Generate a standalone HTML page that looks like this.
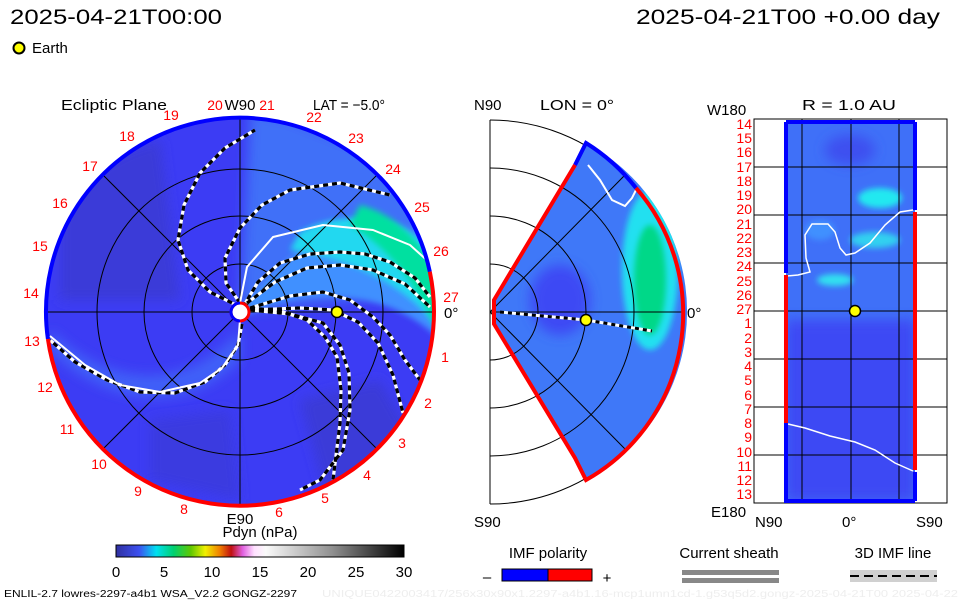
<!DOCTYPE html>
<html><head><meta charset="utf-8"><style>
html,body{margin:0;padding:0;background:#fff}
svg{display:block}
text{font-family:"Liberation Sans",sans-serif}
</style></head><body>
<svg width="960" height="600" viewBox="0 0 960 600" xmlns="http://www.w3.org/2000/svg">
<defs>
<clipPath id="cl"><circle cx="240" cy="312" r="194"/></clipPath>
<clipPath id="cm"><path d="M494,300 L575,165 L586,143 A191,191 0 0 1 586,480 L575,458 L494,324 Z"/></clipPath>
<clipPath id="cr"><rect x="786" y="122" width="129" height="379"/></clipPath>
<filter id="b6" x="-50%" y="-50%" width="200%" height="200%"><feGaussianBlur stdDeviation="6"/></filter>
<filter id="b3" x="-50%" y="-50%" width="200%" height="200%"><feGaussianBlur stdDeviation="3"/></filter>
</defs>
<rect width="960" height="600" fill="#fff"/>

<text x="10" y="24" font-size="21" textLength="212" lengthAdjust="spacingAndGlyphs">2025-04-21T00:00</text>
<text x="636" y="24" font-size="21" textLength="304" lengthAdjust="spacingAndGlyphs">2025-04-21T00 +0.00 day</text>
<circle cx="19" cy="48" r="5.5" fill="#ff0" stroke="#000" stroke-width="2"/>
<text x="32" y="53" font-size="15">Earth</text>

<!-- LEFT PANEL -->
<g clip-path="url(#cl)">
<rect x="40" y="110" width="400" height="400" fill="#3c3cf4"/>
<path d="M240,312 L434,290 L420,200 L370,150 L290,118 L250,110 Z" fill="#3f6ff8" filter="url(#b6)"/>
<path d="M240,312 C300,230 380,190 440,250 L440,340 C400,300 330,280 250,312Z" fill="#4090ff" filter="url(#b3)"/>
<path d="M300,232 C360,200 420,230 440,260 L440,330 C410,290 360,260 290,250Z" fill="#20d8f0" filter="url(#b3)"/>
<path d="M360,205 C400,215 430,250 440,290 L440,340 C425,300 400,255 350,225Z" fill="#00e0a0" filter="url(#b3)"/>
<path d="M50,330 C100,380 180,400 240,330 L240,360 C180,420 100,400 50,350Z" fill="#3f60f8" filter="url(#b6)"/>
<path d="M60,220 C80,170 120,150 160,140 L180,300 L60,300Z" fill="#3a3ad8" filter="url(#b6)"/>
<path d="M300,400 L380,380 L420,450 L330,510 Z" fill="#3a3ad8" filter="url(#b6)"/>
<path d="M150,420 L230,410 L240,500 L150,480Z" fill="#3a3ae0" filter="url(#b6)"/>
</g>
<g fill="none" stroke="#000" stroke-width="1">
<circle cx="240" cy="312" r="48"/><circle cx="240" cy="312" r="96"/><circle cx="240" cy="312" r="143"/>
<line x1="46" y1="312" x2="434" y2="312"/><line x1="240" y1="117" x2="240" y2="507"/>
<line x1="103" y1="175" x2="377" y2="449"/><line x1="103" y1="449" x2="377" y2="175"/>
</g>
<g fill="none" stroke-linejoin="round" stroke-linecap="butt">
<g stroke="#fff" stroke-width="3.2">
<polyline points="240,307 210,292 188,270 178,240 184,205 200,173 225,148 255,130"/>
<polyline points="240,303 226,283 225,258 240,228 262,205 290,190 340,183 390,195"/>
<polyline points="243,307 258,282 280,263 310,254 340,252 365,254 390,262 415,278 430,297"/>
<polyline points="247,303 275,282 307,268 340,265 373,270 405,284 430,307"/>
<polyline points="250,308 290,296 323,292 350,300 373,317 390,335 405,360 420,380"/>
<polyline points="250,310 300,308 333,310 358,322 378,343 393,375 403,413"/>
<polyline points="250,308 280,311 307,320 325,337 337,357 341,390 340,423 333,480"/>
<polyline points="250,310 290,314 323,323 340,345 349,373 350,410 343,450 320,480 300,490"/>
<polyline points="242,324 238,345 225,365 205,382 175,393 140,392 107,380 75,362 50,340"/>
</g>
<g stroke="#000" stroke-width="3.2" stroke-dasharray="5,4">
<polyline points="240,307 210,292 188,270 178,240 184,205 200,173 225,148 255,130"/>
<polyline points="240,303 226,283 225,258 240,228 262,205 290,190 340,183 390,195"/>
<polyline points="243,307 258,282 280,263 310,254 340,252 365,254 390,262 415,278 430,297"/>
<polyline points="247,303 275,282 307,268 340,265 373,270 405,284 430,307"/>
<polyline points="250,308 290,296 323,292 350,300 373,317 390,335 405,360 420,380"/>
<polyline points="250,310 300,308 333,310 358,322 378,343 393,375 403,413"/>
<polyline points="250,308 280,311 307,320 325,337 337,357 341,390 340,423 333,480"/>
<polyline points="250,310 290,314 323,323 340,345 349,373 350,410 343,450 320,480 300,490"/>
<polyline points="242,324 238,345 225,365 205,382 175,393 140,392 107,380 75,362 50,340"/>
</g>
<polyline stroke="#fff" stroke-width="2" points="240,303 247,267 273,237 323,225 373,230 410,245 430,263"/>
<polyline stroke="#fff" stroke-width="2" points="240,320 238,345 222,368 200,383 160,392 120,385 85,365 50,336"/>
</g>
<path d="M429.8,271.7 A194,194 0 0 0 47.9,339" fill="none" stroke="#00f" stroke-width="4"/>
<path d="M47.9,339 A194,194 0 1 0 429.8,271.7" fill="none" stroke="#f00" stroke-width="4"/>
<circle cx="240" cy="312" r="9" fill="#fff" stroke="#f00" stroke-width="3"/>
<path d="M240,303 A9,9 0 0 0 240,321" fill="none" stroke="#00f" stroke-width="3"/>
<circle cx="337" cy="312" r="5.5" fill="#ff0" stroke="#000" stroke-width="1.5"/>
<g font-size="14" fill="#f00" text-anchor="middle">
<text x="451" y="302">27</text><text x="441" y="256">26</text><text x="422" y="212">25</text><text x="393" y="174">24</text><text x="356" y="143">23</text><text x="314" y="122">22</text><text x="267" y="110">21</text><text x="215" y="110">20</text><text x="171" y="120">19</text><text x="127" y="141">18</text><text x="90" y="171">17</text><text x="60" y="208">16</text><text x="40" y="251">15</text><text x="31" y="298">14</text><text x="32" y="346">13</text><text x="45" y="392">12</text><text x="67" y="434">11</text><text x="99" y="469">10</text><text x="138" y="496">9</text><text x="184" y="514">8</text><text x="279" y="517">6</text><text x="325" y="503">5</text><text x="367" y="480">4</text><text x="402" y="448">3</text><text x="428" y="408">2</text><text x="445" y="362">1</text>
</g>
<g font-size="15">
<text x="61" y="110" textLength="106" lengthAdjust="spacingAndGlyphs">Ecliptic Plane</text>
<text x="240" y="110" text-anchor="middle">W90</text>
<text x="313" y="110" textLength="72" lengthAdjust="spacingAndGlyphs">LAT = −5.0°</text>
<text x="444" y="318">0°</text>
<text x="240" y="524" text-anchor="middle">E90</text>
</g>

<!-- MIDDLE PANEL -->
<g fill="none" stroke="#000" stroke-width="1">
<path d="M490,264 A48,48 0 0 1 490,360"/><path d="M490,216 A96,96 0 0 1 490,408"/>
<path d="M490,168 A144,144 0 0 1 490,456"/><path d="M490,120 A192,192 0 0 1 490,504"/>
<line x1="490" y1="120" x2="490" y2="504"/>
</g>
<g clip-path="url(#cm)">
<rect x="480" y="130" width="220" height="360" fill="#3f78f8"/>
<ellipse cx="560" cy="300" rx="30" ry="35" fill="#3c48f4" filter="url(#b6)"/>
<ellipse cx="650" cy="270" rx="28" ry="80" fill="#20e0f0" filter="url(#b3)"/>
<ellipse cx="650" cy="280" rx="16" ry="55" fill="#00d888" filter="url(#b3)"/>
</g>
<g fill="none" stroke="#000" stroke-width="1" clip-path="url(#cm)">
<path d="M490,264 A48,48 0 0 1 490,360"/><path d="M490,216 A96,96 0 0 1 490,408"/>
<path d="M490,168 A144,144 0 0 1 490,456"/>
</g>
<g stroke="#000" stroke-width="1">
<line x1="490" y1="312" x2="682" y2="312"/>
<line x1="490" y1="312" x2="625" y2="175"/><line x1="490" y1="312" x2="625" y2="449"/>
</g>
<polyline points="588,165 600,180 612,200 625,206 632,198 636,190" fill="none" stroke="#fff" stroke-width="2"/>
<polyline points="500,312 586,320 652,331" fill="none" stroke="#fff" stroke-width="3"/>
<polyline points="500,312 586,320 652,331" fill="none" stroke="#000" stroke-width="3" stroke-dasharray="4,4"/>
<path d="M575,165 L586,143 A191,191 0 0 1 636,188" fill="none" stroke="#00f" stroke-width="4"/>
<path d="M636,188 A191,191 0 0 1 586,480 L575,458 L494,324 L494,300 L575,165" fill="none" stroke="#f00" stroke-width="4"/>
<circle cx="586" cy="320" r="5.5" fill="#ff0" stroke="#000" stroke-width="1.5"/>
<g font-size="15">
<text x="474" y="110">N90</text><text x="540" y="110" textLength="74" lengthAdjust="spacingAndGlyphs">LON = 0°</text>
<text x="474" y="527">S90</text><text x="687" y="318">0°</text>
</g>

<!-- RIGHT PANEL -->
<rect x="754" y="119" width="193" height="384" fill="#fff" stroke="#000" stroke-width="1"/>
<g clip-path="url(#cr)">
<rect x="786" y="122" width="129" height="379" fill="#3f70f8"/>
<rect x="786" y="320" width="129" height="181" fill="#3c48f4" filter="url(#b6)"/>
<ellipse cx="880" cy="198" rx="22" ry="10" fill="#20e8f0" filter="url(#b3)"/>
<ellipse cx="875" cy="240" rx="25" ry="8" fill="#30d0f0" filter="url(#b3)"/>
<ellipse cx="835" cy="280" rx="18" ry="6" fill="#30e0f0" filter="url(#b3)"/>
<ellipse cx="820" cy="230" rx="15" ry="10" fill="#4090ff" filter="url(#b3)"/>
<ellipse cx="850" cy="150" rx="25" ry="15" fill="#3c50f0" filter="url(#b6)"/>
</g>
<g stroke="#000" stroke-width="1">
<line x1="754" y1="167" x2="947" y2="167"/><line x1="754" y1="215" x2="947" y2="215"/>
<line x1="754" y1="263" x2="947" y2="263"/><line x1="754" y1="311" x2="947" y2="311"/>
<line x1="754" y1="359" x2="947" y2="359"/><line x1="754" y1="407" x2="947" y2="407"/>
<line x1="754" y1="455" x2="947" y2="455"/>
<line x1="802" y1="119" x2="802" y2="503"/><line x1="851" y1="119" x2="851" y2="503"/><line x1="899" y1="119" x2="899" y2="503"/>
</g>
<polyline points="787,276 798,275 810,272 806,258 805,235 812,224 828,224 835,232 840,248 846,255 855,253 870,243 885,225 900,212 913,210" fill="none" stroke="#fff" stroke-width="1.5"/>
<polyline points="788,424 805,428 830,436 855,442 875,450 895,463 913,471" fill="none" stroke="#fff" stroke-width="1.5"/>
<path d="M786,122 L915,122 M786,122 L786,273 M915,122 L915,210 M786,423 L786,501 L915,501 M915,472 L915,501" fill="none" stroke="#00f" stroke-width="4"/>
<path d="M786,275 L786,423 M915,212 L915,470" fill="none" stroke="#f00" stroke-width="4"/>
<circle cx="855" cy="311" r="5.5" fill="#ff0" stroke="#000" stroke-width="1.5"/>
<g font-size="14" fill="#f00" text-anchor="end">
<text x="752" y="129">14</text><text x="752" y="143">15</text><text x="752" y="157">16</text><text x="752" y="172">17</text><text x="752" y="186">18</text><text x="752" y="200">19</text><text x="752" y="214">20</text><text x="752" y="229">21</text><text x="752" y="243">22</text><text x="752" y="257">23</text><text x="752" y="271">24</text><text x="752" y="286">25</text><text x="752" y="300">26</text><text x="752" y="314">27</text><text x="752" y="328">1</text><text x="752" y="343">2</text><text x="752" y="357">3</text><text x="752" y="371">4</text><text x="752" y="385">5</text><text x="752" y="400">6</text><text x="752" y="414">7</text><text x="752" y="428">8</text><text x="752" y="442">9</text><text x="752" y="457">10</text><text x="752" y="471">11</text><text x="752" y="485">12</text><text x="752" y="499">13</text>
</g>
<g font-size="15">
<text x="707" y="115">W180</text><text x="802" y="110" textLength="94" lengthAdjust="spacingAndGlyphs">R = 1.0 AU</text>
<text x="711" y="517">E180</text><text x="755" y="527">N90</text><text x="842" y="527">0°</text><text x="916" y="527">S90</text>
</g>

<defs><linearGradient id="cb" x1="0" x2="1">
<stop offset="0" stop-color="#3030a0"/><stop offset="0.08" stop-color="#3c50f0"/><stop offset="0.14" stop-color="#00e0f0"/><stop offset="0.2" stop-color="#00d070"/><stop offset="0.26" stop-color="#60c800"/><stop offset="0.31" stop-color="#f0f000"/><stop offset="0.36" stop-color="#f08000"/><stop offset="0.4" stop-color="#c01010"/><stop offset="0.44" stop-color="#e060e0"/><stop offset="0.48" stop-color="#ffe0ff"/><stop offset="0.52" stop-color="#fafafa"/><stop offset="0.75" stop-color="#909090"/><stop offset="1" stop-color="#000"/>
</linearGradient></defs>
<text x="260" y="537" font-size="15" text-anchor="middle">Pdyn (nPa)</text>
<rect x="116" y="545" width="288" height="12" fill="url(#cb)" stroke="#000" stroke-width="1"/>
<g font-size="15" text-anchor="middle">
<text x="116" y="577">0</text><text x="164" y="577">5</text><text x="212" y="577">10</text><text x="260" y="577">15</text><text x="308" y="577">20</text><text x="356" y="577">25</text><text x="404" y="577">30</text>
</g>
<text x="548" y="558" font-size="15" text-anchor="middle">IMF polarity</text>
<text x="487" y="582" font-size="15" text-anchor="middle">–</text>
<rect x="502" y="569" width="46" height="12" fill="#00f" stroke="#000"/>
<rect x="548" y="569" width="44" height="12" fill="#f00" stroke="#000"/>
<text x="607" y="583" font-size="15" text-anchor="middle">+</text>
<text x="729" y="558" font-size="15" text-anchor="middle">Current sheath</text>
<rect x="682" y="570" width="97" height="5" fill="#888"/><rect x="682" y="578" width="97" height="5" fill="#888"/>
<text x="893" y="558" font-size="15" text-anchor="middle">3D IMF line</text>
<rect x="850" y="570" width="87" height="12" fill="#d0d0d0"/>
<line x1="850" y1="576" x2="937" y2="576" stroke="#000" stroke-width="2" stroke-dasharray="9,5"/>
<text x="4" y="597" font-size="10" textLength="293" lengthAdjust="spacingAndGlyphs">ENLIL-2.7 lowres-2297-a4b1 WSA_V2.2 GONGZ-2297</text>
<text x="322" y="597" font-size="10" fill="#eeeeee" textLength="636" lengthAdjust="spacingAndGlyphs">UNIQUE0422003417/256x30x90x1.2297-a4b1.16-mcp1umn1cd-1.g53q5d2.gongz-2025-04-21T00   2025-04-22</text>
</svg>
</body></html>
